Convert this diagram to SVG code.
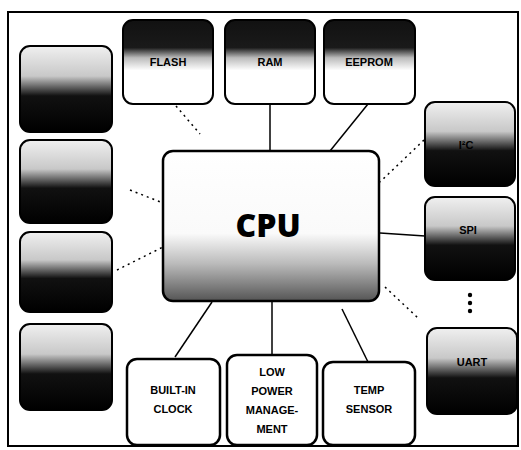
<svg xmlns="http://www.w3.org/2000/svg" width="521" height="450" viewBox="0 0 521 450">
<defs>
<linearGradient id="gTop" x1="0" y1="0" x2="0" y2="1">
<stop offset="0" stop-color="#111"/><stop offset="0.33" stop-color="#1a1a1a"/><stop offset="0.45" stop-color="#bbb"/><stop offset="0.6" stop-color="#fff"/><stop offset="1" stop-color="#fff"/>
</linearGradient>
<linearGradient id="gSide" x1="0" y1="0" x2="0" y2="1">
<stop offset="0" stop-color="#f0f0f0"/><stop offset="0.35" stop-color="#c8c8c8"/><stop offset="0.58" stop-color="#111"/><stop offset="1" stop-color="#000"/>
</linearGradient>
<linearGradient id="gCpu" x1="0" y1="0" x2="0" y2="1">
<stop offset="0" stop-color="#fff"/><stop offset="0.55" stop-color="#fafafa"/><stop offset="0.75" stop-color="#bbb"/><stop offset="1" stop-color="#555"/>
</linearGradient>
<style>
.frame{fill:none;stroke:#000;stroke-width:2}
.box{stroke:#000;stroke-width:2}
.top{fill:url(#gTop)}
.side{fill:url(#gSide)}
.plain{fill:#fff;stroke-width:2.5}
.cpu{fill:url(#gCpu);stroke-width:2.5}
.lbl{font-family:"Liberation Sans",Arial,sans-serif;font-weight:bold;font-size:11px;text-anchor:middle;fill:#000}
.cpuT{font-family:"Open Sans","Liberation Sans",sans-serif;font-weight:800;font-size:32px;text-anchor:middle;fill:#000}
.solid{stroke:#000;stroke-width:1.5;fill:none}
.dot{stroke:#000;stroke-width:1.5;fill:none;stroke-dasharray:2 4}
</style>
</defs>
<rect x="0" y="0" width="521" height="450" fill="#fff"/>
<rect class="frame" x="8" y="12" width="510" height="434"/>
<g id="connectors">
<line class="dot" x1="176" y1="106" x2="200" y2="134"/>
<line class="solid" x1="270" y1="104" x2="270" y2="151"/>
<line class="solid" x1="368" y1="104" x2="330" y2="151"/>
<line class="dot" x1="424" y1="140" x2="380" y2="182"/>
<line class="dot" x1="130" y1="190" x2="163" y2="203"/>
<line class="dot" x1="117" y1="270" x2="163" y2="247"/>
<line class="solid" x1="380" y1="233" x2="425" y2="236"/>
<line class="dot" x1="385" y1="287" x2="418" y2="318"/>
<line class="solid" x1="212" y1="302" x2="175" y2="357"/>
<line class="solid" x1="272" y1="301" x2="272" y2="355"/>
<line class="solid" x1="342" y1="309" x2="368" y2="362"/>
</g>
<g id="flash"><rect class="box top" x="123" y="20" width="90" height="84" rx="10"/><text class="lbl" x="168" y="66">FLASH</text></g>
<g id="ram"><rect class="box top" x="225" y="20" width="90" height="84" rx="10"/><text class="lbl" x="270" y="66">RAM</text></g>
<g id="eeprom"><rect class="box top" x="324" y="20" width="91" height="84" rx="10"/><text class="lbl" x="369" y="66">EEPROM</text></g>
<g id="left1"><rect class="box side" x="20" y="46" width="92" height="86" rx="10"/></g>
<g id="left2"><rect class="box side" x="20" y="140" width="92" height="83" rx="10"/></g>
<g id="left3"><rect class="box side" x="20" y="232" width="92" height="80" rx="10"/></g>
<g id="left4"><rect class="box side" x="20" y="324" width="92" height="86" rx="10"/></g>
<g id="cpu"><rect class="box cpu" x="163" y="151" width="216" height="150" rx="10"/><text class="cpuT" x="268" y="237">CPU</text></g>
<g id="i2c"><rect class="box side" x="425" y="102" width="90" height="84" rx="10"/><text class="lbl" x="466" y="149" font-size="14">I²C</text></g>
<g id="spi"><rect class="box side" x="425" y="197" width="90" height="83" rx="10"/><text class="lbl" x="468" y="234">SPI</text></g>
<g id="more"><circle cx="470" cy="295" r="2.2"/><circle cx="470" cy="303" r="2.2"/><circle cx="470" cy="311" r="2.2"/></g>
<g id="uart"><rect class="box side" x="427" y="328" width="90" height="86" rx="10"/><text class="lbl" x="472" y="366">UART</text></g>
<g id="clock"><rect class="box plain" x="127" y="359" width="93" height="86" rx="10"/><text class="lbl" x="173" y="394">BUILT-IN</text><text class="lbl" x="173" y="413">CLOCK</text></g>
<g id="power"><rect class="box plain" x="227" y="355" width="90" height="90" rx="10"/><text class="lbl" x="272" y="376">LOW</text><text class="lbl" x="272" y="395">POWER</text><text class="lbl" x="272" y="414">MANAGE-</text><text class="lbl" x="272" y="433">MENT</text></g>
<g id="temp"><rect class="box plain" x="323" y="362" width="92" height="83" rx="10"/><text class="lbl" x="369" y="394">TEMP</text><text class="lbl" x="369" y="413">SENSOR</text></g>
</svg>
